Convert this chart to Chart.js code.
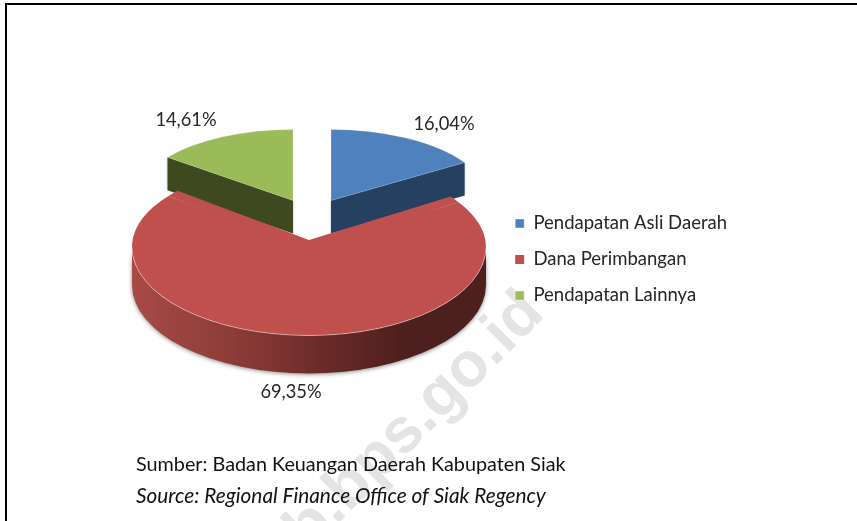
<!DOCTYPE html>
<html><head><meta charset="utf-8">
<script src="https://cdn.jsdelivr.net/npm/chart.js@4"></script>
<style>
html,body{margin:0;padding:0;background:#fff;width:857px;height:521px;overflow:hidden}
#c{position:absolute;left:0;top:0}
</style></head><body>
<canvas id="c" width="857" height="521"></canvas>
<script>
const categories = ['Pendapatan Asli Daerah','Dana Perimbangan','Pendapatan Lainnya'];
const shares = [16.04,69.35,14.61];
const colors = ['#4f81bd','#c0504d','#9bbb59'];
const wallColors = ['#254061',null,'#3f491f'];
const notes = ['Sumber: Badan Keuangan Daerah Kabupaten Siak','Source: Regional Finance Office of Siak Regency'];
const watermark = 'siakkab.bps.go.id';
const FONT = 'Lato, "Open Sans", sans-serif';

// projection of each slice: ellipse centre and radii (rear = far half of the big slice)
const proj = [
  {cx:331,cy:200.5,rx:158,ry:71,depth:33},
  {cx:309,cy:247,rx:177,ry:88.5,rear:84,depth:38},
  {cx:293,cy:200.5,rx:158,ry:71,depth:33}
];
const labelPos = [{x:444,y:124},{x:291,y:392},{x:186,y:120}];

function place(ctx,el,p,ry){
  const R = el.outerRadius, k=(ry||p.ry)/R, h=p.rx/R;
  ctx.transform(h,0,0,k,p.cx-el.x*h,p.cy-el.y*k);
}
class Pie3D extends Chart.PieController{
  draw(){
    const ctx=this.chart.ctx, arcs=this._cachedMeta.data, area=this.chart.chartArea;
    // back slices: cut walls then top
    [0,2].forEach(i=>{
      const el=arcs[i],p=proj[i];
      const a=i===0?el.endAngle:el.startAngle;
      const q={x:p.cx+p.rx*Math.cos(a),y:p.cy+p.ry*Math.sin(a)};
      ctx.save();
      ctx.shadowColor='rgba(0,0,0,.25)';ctx.shadowBlur=3;
      ctx.fillStyle=wallColors[i];
      ctx.beginPath();
      ctx.moveTo(p.cx,p.cy);ctx.lineTo(q.x,q.y);ctx.lineTo(q.x,q.y+p.depth);ctx.lineTo(p.cx,p.cy+p.depth);
      ctx.closePath();ctx.fill();
      ctx.restore();
      ctx.save();place(ctx,el,p);el.draw(ctx,area);ctx.restore();
    });
    // big slice: rim, then top in far and near halves
    const el=arcs[1],p=proj[1];
    ctx.save();
    const g=ctx.createLinearGradient(p.cx-p.rx,0,p.cx+p.rx,0);
    g.addColorStop(0,'#a84a45');g.addColorStop(.3,'#8b3b37');g.addColorStop(.55,'#692a28');g.addColorStop(.78,'#4d1f1e');g.addColorStop(1,'#4d1f1e');
    ctx.shadowColor='rgba(0,0,0,.45)';ctx.shadowBlur=4;ctx.shadowOffsetY=1;
    ctx.fillStyle=g;
    ctx.beginPath();
    ctx.ellipse(p.cx,p.cy,p.rx,p.ry,0,0,Math.PI);
    ctx.ellipse(p.cx,p.cy+p.depth,p.rx,p.ry,0,Math.PI,0,true);
    ctx.closePath();ctx.fill();
    ctx.restore();
    ctx.save();ctx.beginPath();ctx.rect(0,0,857,p.cy);ctx.clip();place(ctx,el,p,p.rear);el.draw(ctx,area);ctx.restore();
    ctx.save();ctx.beginPath();ctx.rect(0,p.cy,857,300);ctx.clip();place(ctx,el,p,p.ry);el.draw(ctx,area);ctx.restore();
    // the inner point of the big slice sits above the ellipse centre, and its corners reach a little further
    const at=a=>({x:p.cx+p.rx*Math.cos(a),y:p.cy+p.rear*Math.sin(a)});
    const ext=4.6*Math.PI/180;
    const sa=at(el.startAngle),sb=at(el.startAngle-ext),ea=at(el.endAngle),eb=at(el.endAngle+ext);
    ctx.save();ctx.fillStyle=colors[1];
    ctx.beginPath();ctx.moveTo(p.cx,p.cy-7);ctx.lineTo(sb.x,sb.y);ctx.lineTo(sa.x,sa.y);ctx.lineTo(p.cx,p.cy+2);ctx.lineTo(ea.x,ea.y);ctx.lineTo(eb.x,eb.y);ctx.closePath();ctx.fill();
    // light rim on the near edge
    ctx.strokeStyle='rgba(255,255,255,.45)';ctx.lineWidth=1;
    ctx.beginPath();ctx.ellipse(p.cx,p.cy,p.rx,p.ry,0,0,Math.PI);ctx.stroke();
    ctx.restore();
  }
}
Pie3D.id='pie3d';
Pie3D.defaults=Chart.PieController.defaults;
Chart.register(Pie3D);

const backdrop={id:'backdrop',beforeDraw(ch){
  const c=ch.ctx;
  c.save();c.fillStyle='#fff';c.fillRect(0,0,857,521);
  c.translate(534,303);c.rotate(-Math.PI/4);
  c.fillStyle='#e4e4e4';c.font='bold 63px "Liberation Sans"';c.textAlign='right';c.textBaseline='middle';
  c.fillText(watermark,0,0);
  c.restore();
}};
const labelsAndFrame={id:'labelsAndFrame',afterDraw(ch){
  const c=ch.ctx;
  c.save();
  c.fillStyle='#000';c.fillRect(5,3,852,2);c.fillRect(5,3,2,518);
  c.fillStyle='#262626';c.font='18.3px '+FONT;c.textAlign='center';c.textBaseline='middle';
  shares.forEach((v,i)=>c.fillText(v.toFixed(2).replace('.',',')+'%',labelPos[i].x,labelPos[i].y));
  c.textAlign='left';c.fillStyle='#111';
  c.font='19.8px '+FONT;
  c.fillText(notes[0],136,465);
  c.font='italic 20.8px '+FONT;
  c.fillText(notes[1],136,496);
  c.restore();
}};
new Chart(document.getElementById('c'),{
  type:'pie3d',
  data:{labels:categories,datasets:[{data:shares,backgroundColor:colors,borderColor:['rgba(255,255,255,.4)','rgba(0,0,0,0)','rgba(255,255,255,.4)'],borderWidth:1}]},
  options:{
    responsive:false,animation:false,
    layout:{padding:{top:0,bottom:2,right:120}},
    plugins:{
      tooltip:{enabled:false},
      legend:{position:'right',align:'center',labels:{boxWidth:9,boxHeight:9,padding:17.5,color:'#262626',font:{family:FONT,size:18.5}}}
    }
  },
  plugins:[backdrop,labelsAndFrame]
});
</script>
</body></html>
